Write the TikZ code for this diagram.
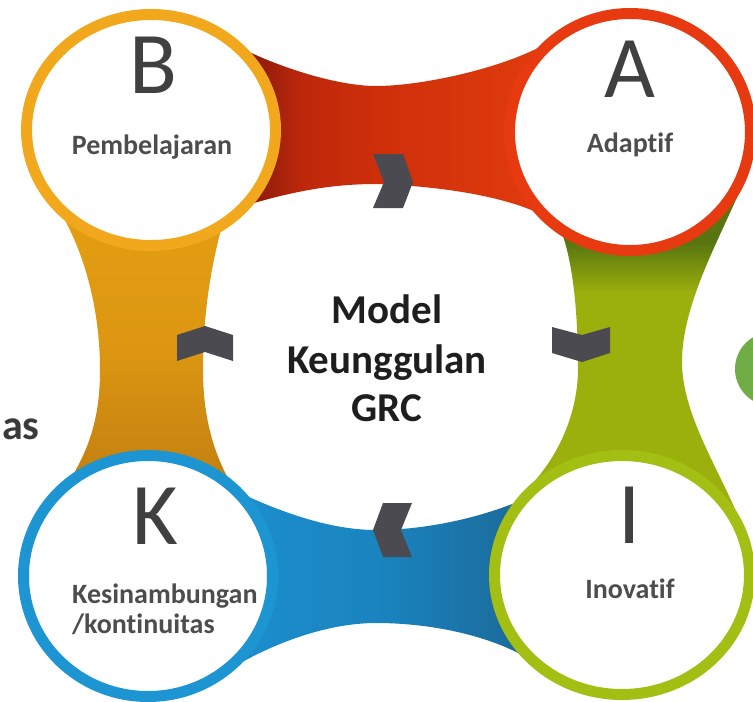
\documentclass[tikz,border=0pt]{standalone}
\usepackage{fontspec}
\setmainfont{Carlito}[Ligatures=NoCommon]
\definecolor{rd0}{HTML}{861A0B}
\definecolor{rd1}{HTML}{BD280B}
\definecolor{rd2}{HTML}{CE2F0A}
\definecolor{rd3}{HTML}{E23C0E}
\definecolor{gn0}{HTML}{587510}
\definecolor{gn1}{HTML}{9BB00C}
\definecolor{or0}{HTML}{E39E12}
\definecolor{or1}{HTML}{DC9612}
\definecolor{or2}{HTML}{C28010}
\definecolor{bl0}{HTML}{1C8ECD}
\definecolor{bl1}{HTML}{1A84BF}
\definecolor{bl2}{HTML}{1B6A9A}
\definecolor{ringB}{HTML}{F2A81D}
\definecolor{ringA}{HTML}{E83A10}
\definecolor{ringI}{HTML}{A4BF14}
\definecolor{ringK}{HTML}{1D95D3}
\definecolor{chevgray}{HTML}{4A4A50}
\definecolor{lettergray}{HTML}{404040}
\definecolor{lblgray}{HTML}{4D4D4D}
\definecolor{centergray}{HTML}{1E1E1E}
\definecolor{asgray}{HTML}{3A3A3A}
\definecolor{smallgreen}{HTML}{70AD47}
\pgfdeclarehorizontalshading{redshade}{100bp}{color(0bp)=(rd0); color(26bp)=(rd0); color(35bp)=(rd1); color(47bp)=(rd2); color(75bp)=(rd3); color(100bp)=(rd3)}
\pgfdeclareverticalshading{greenshade}{100bp}{color(0bp)=(gn1); color(59bp)=(gn1); color(66bp)=(gn0); color(100bp)=(gn0)}
\pgfdeclareverticalshading{orangeshade}{100bp}{color(0bp)=(or2); color(25bp)=(or2); color(50bp)=(or1); color(75bp)=(or0); color(100bp)=(or0)}
\pgfdeclarehorizontalshading{blueshade}{100bp}{color(0bp)=(bl0); color(25bp)=(bl0); color(50bp)=(bl1); color(75bp)=(bl2); color(100bp)=(bl2)}
\tikzset{
  ring/.style={line width=11pt, fill=white},
  chev/.style={fill=chevgray},
  bigletter/.style={font=\fontsize{88}{88}\selectfont, text=lettergray, inner sep=0pt, anchor=base},
  lbl/.style={font=\bfseries\fontsize{28}{32}\selectfont, text=lblgray, inner sep=0pt, anchor=base},
  ctext/.style={font=\bfseries\fontsize{41}{49}\selectfont, text=centergray, inner sep=0pt, anchor=base},
}
\begin{document}
\begin{tikzpicture}[x=1pt,y=-1pt]
\useasboundingbox (0,0) rectangle (753,702);
\clip (0,0) rectangle (753,702);
% bands
\shade[shading=redshade] (240,47) .. controls (262,60) and (330,86) .. (376,86) .. controls (425,86) and (512,66) .. (552,40) -- (536,212) .. controls (500,196) and (440,186) .. (376,184) .. controls (325,184) and (285,194) .. (247,205) -- cycle;
\shade[shading=greenshade] (560,228) .. controls (574,262) and (578,320) .. (578,368) .. controls (578,415) and (557,458) .. (530,486) -- (746,537) .. controls (728,482) and (682,420) .. (682,362) .. controls (682,300) and (725,230) .. (745,178) -- cycle;
\shade[shading=orangeshade] (62,215) .. controls (85,255) and (100,310) .. (100,370) .. controls (100,420) and (88,450) .. (70,480) -- (230,482) .. controls (215,455) and (203,420) .. (203,370) .. controls (203,310) and (212,260) .. (225,215) -- cycle;
\shade[shading=blueshade] (236,491) .. controls (280,512) and (330,530) .. (376,530) .. controls (425,530) and (480,518) .. (522,500) -- (522,655) .. controls (485,635) and (430,623) .. (376,623) .. controls (325,623) and (270,645) .. (232,668) -- cycle;
% circles
\draw[ring, draw=ringB] (151,130) ellipse [x radius=124.5pt, y radius=115.5pt];
\draw[ring, draw=ringA] (630,132) ellipse [x radius=120.5pt, y radius=118.5pt];
\draw[ring, draw=ringI] (622,575) ellipse [x radius=127.5pt, y radius=119.5pt];
\draw[ring, draw=ringK] (148,576) ellipse [x radius=124.5pt, y radius=120.5pt];
% chevrons
\fill[chev] (373,154) -- (403,154) -- (413,182) -- (403,208) -- (373,208) -- (384,182) -- cycle;
\fill[chev] (552,327) -- (582,335) -- (610,327) -- (610,353) -- (582,362) -- (552,353) -- cycle;
\fill[chev] (383,503) -- (412,503) -- (401,530) -- (412,557) -- (383,557) -- (373,530) -- cycle;
\fill[chev] (177,335) -- (205,326) -- (233,335) -- (233,361) -- (205,352) -- (177,361) -- cycle;
% partial circle at right edge
\fill[smallgreen] (772,369) circle [radius=37pt];
% texts
\node[bigletter] (letB) at (153,93) {B};
\node[lbl] (lblB) at (152,154) {Pembelajaran};
\node[bigletter] (letA) at (630,97) {A};
\node[lbl] (lblA) at (630,152) {Adaptif};
\node[bigletter] (letI) at (630,543) {I};
\node[lbl] (lblI) at (630,598) {Inovatif};
\node[bigletter] (letK) at (155,544) {K};
\node[lbl, anchor=base west] (lblK1) at (72,603) {Kesinambungan};
\node[lbl, anchor=base west] (lblK2) at (72,633) {/kontinuitas};
\node[ctext] (c1) at (387,323) {Model};
\node[ctext] (c2) at (387,373) {Keunggulan};
\node[ctext] (c3) at (387,421) {GRC};
\node[font=\bfseries\fontsize{42}{42}\selectfont, text=asgray, anchor=base west, inner sep=0pt] (as) at (2,439) {as};
\end{tikzpicture}
\end{document}
